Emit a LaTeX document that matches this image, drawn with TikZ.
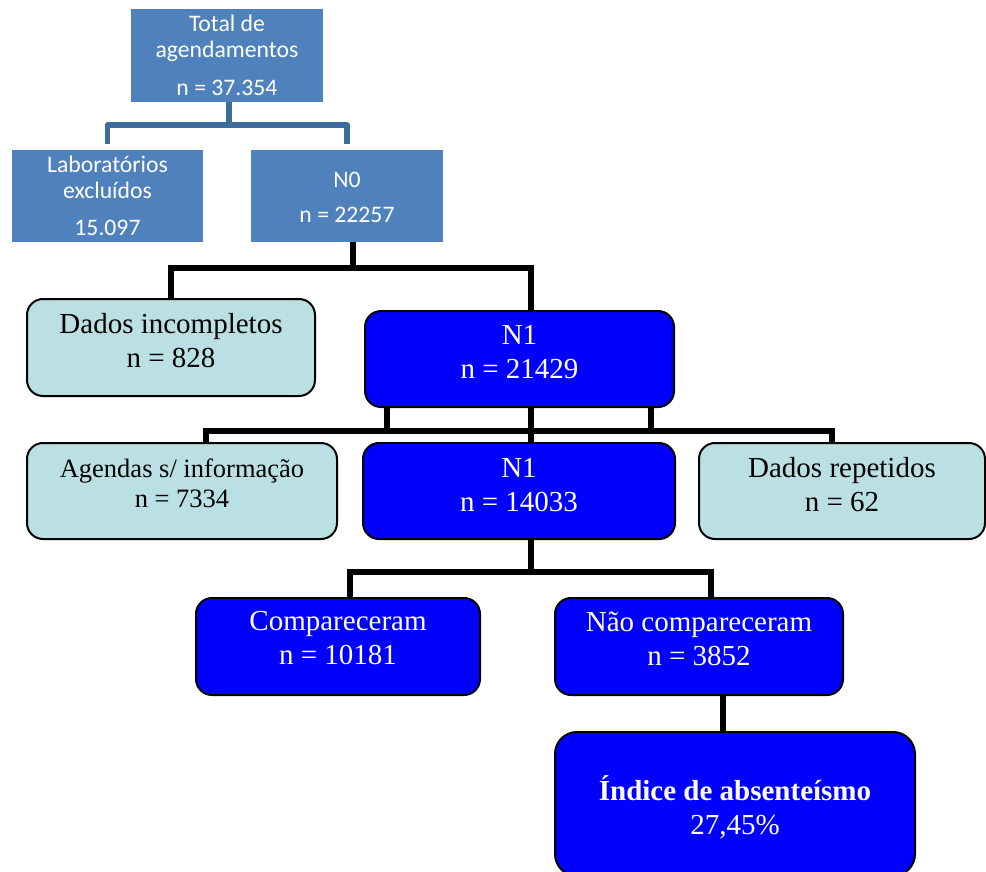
\documentclass[tikz,border=0pt]{standalone}
\usepackage{fontspec}
\setmainfont{Liberation Serif}
\newfontfamily\calib{Carlito}
\usetikzlibrary{calc}
\definecolor{steel}{RGB}{79,129,189}
\definecolor{steelline}{RGB}{62,108,158}
\definecolor{paleaqua}{RGB}{186,224,227}
\definecolor{pureblue}{RGB}{0,0,255}
\begin{document}
\begin{tikzpicture}[x=1pt,y=-1pt,
  sbox/.style={fill=steel, inner sep=0, outer sep=0},
  cbox/.style={fill=paleaqua, draw=black, line width=2pt, rounded corners=16pt, inner sep=0},
  bbox/.style={fill=pureblue, draw=black, line width=2pt, rounded corners=16pt, inner sep=0},
  stxt/.style={text=white, font=\calib\fontsize{23.7}{26}\selectfont, align=center, inner sep=0},
  ttxt/.style={font=\fontsize{29}{34}\selectfont, align=center, inner sep=0},
  wtxt/.style={ttxt, text=white},
  bline/.style={draw=steelline, line width=5.5pt, line join=round},
  kline/.style={draw=black, line width=6pt, line join=miter},
]
\useasboundingbox (0,0) rectangle (986,872);

% top (steel blue) boxes
\node[sbox, minimum width=192, minimum height=93] (tot) at (227,55.5) {};
\node[sbox, minimum width=191, minimum height=92] (lab) at (107.5,196) {};
\node[sbox, minimum width=192, minimum height=92] (n0) at (347,196) {};

% rounded boxes
\node[cbox, minimum width=288, minimum height=97] (di) at (171,347.5) {};
\node[bbox, minimum width=309, minimum height=96] (n1a) at (519.5,359) {};
\node[cbox, minimum width=310, minimum height=96] (ag) at (182,491) {};
\node[bbox, minimum width=312, minimum height=96] (n1b) at (519,491) {};
\node[cbox, minimum width=286, minimum height=96] (dr) at (842,491) {};
\node[bbox, minimum width=284, minimum height=97] (comp) at (338,646.5) {};
\node[bbox, minimum width=288, minimum height=97] (nao) at (699,646.5) {};
\node[bbox, rounded corners=22pt, minimum width=360, minimum height=144] (ind) at (735,804) {};

% texts
\node[stxt] (tot-t) at (tot.center) {Total de\\agendamentos\\[11.5pt]n = 37.354};
\node[stxt] (lab-t) at (lab.center) {Laboratórios\\excluídos\\[10.5pt]15.097};
\node[stxt] (n0-t) at ([yshift=-1.5]n0.center) {N0\\[9.6pt]n = 22257};
\node[ttxt] (di-t) at ([yshift=6.5]di.center) {Dados incompletos\\n = 828};
\node[wtxt] (n1a-t) at ([yshift=7]n1a.center) {N1\\n = 21429};
\node[ttxt, font=\fontsize{26.5}{30}\selectfont] (ag-t) at ([yshift=8]ag.center) {Agendas s/ informação\\n = 7334};
\node[wtxt] (n1b-t) at ([yshift=6]n1b.center) {N1\\n = 14033};
\node[ttxt] (dr-t) at ([yshift=6.5]dr.center) {Dados repetidos\\n = 62};
\node[wtxt] (comp-t) at ([yshift=8]comp.center) {Compareceram\\n = 10181};
\node[wtxt] (nao-t) at ([yshift=8]nao.center) {Não compareceram\\n = 3852};
\node[wtxt] (ind-t) at ([yshift=-3.5]ind.center) {\textbf{Índice de absenteísmo}\\27,45\%};

% steel blue connectors
\draw[bline] ([xshift=2]tot.south) -- ++(0,23) -| ([yshift=6]lab.north);
\draw[bline] ([xshift=2]tot.south) -- ++(0,23) -| ([yshift=6]n0.north);

% black connectors
\draw[kline] ([xshift=6]n0.south) -- ++(0,26) -| (di.north);
\draw[kline] ([xshift=6]n0.south) -- ++(0,26) -| ([xshift=11.5]n1a.north);

\draw[kline] ([xshift=-132.5]n1a.south) -- ++(0,25);
\draw[kline] ([xshift=131.5]n1a.south) -- ++(0,25);
\draw[kline] ([xshift=11.5]n1a.south) -- ([xshift=12]n1b.north);
\draw[kline] ([xshift=24]ag.north) -- ++(0,-11) -| ([xshift=-10]dr.north);

\draw[kline] ([xshift=12]n1b.south) -- ++(0,34);
\draw[kline] ([xshift=12]comp.north) -- ++(0,-25) -| ([xshift=12]nao.north);

\draw[kline] ([xshift=24]nao.south) -- ([xshift=-12]ind.north);
\end{tikzpicture}
\end{document}
